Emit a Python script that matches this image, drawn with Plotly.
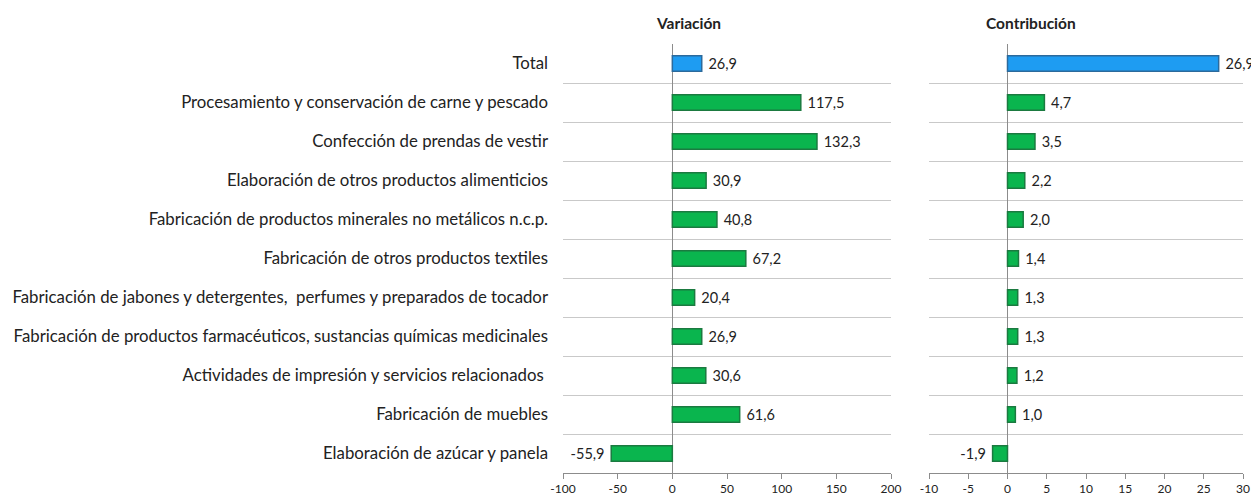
import plotly.graph_objects as go

categories = [
    "Total",
    "Procesamiento y conservación de carne y pescado",
    "Confección de prendas de vestir",
    "Elaboración de otros productos alimenticios",
    "Fabricación de productos minerales no metálicos n.c.p.",
    "Fabricación de otros productos textiles",
    "Fabricación de jabones y detergentes,\u00a0 perfumes y preparados de tocador",
    "Fabricación de productos farmacéuticos, sustancias químicas medicinales",
    "Actividades de impresión y servicios relacionados\u00a0",
    "Fabricación de muebles",
    "Elaboración de azúcar y panela",
]
variacion = [26.9, 117.5, 132.3, 30.9, 40.8, 67.2, 20.4, 26.9, 30.6, 61.6, -55.9]
contribucion = [26.9, 4.7, 3.5, 2.2, 2.0, 1.4, 1.3, 1.3, 1.2, 1.0, -1.9]
var_ticks = [-100, -50, 0, 50, 100, 150, 200]
con_ticks = [-10, -5, 0, 5, 10, 15, 20, 25, 30]

FONT = "Lato"
W, H = 1251, 495

def fmt(v):
    s = f"{v:.1f}".replace(".", ",")
    return (" " + s) if v >= 0 else (s + " ")

fill = ["#1E9CF2"] + ["#0AB54E"] * (len(categories) - 1)
edge = ["#2C6A9C"] + ["#1B7A40"] * (len(categories) - 1)

fig = go.Figure()
for vals, xa, ya in [(variacion, "x", "y"), (contribucion, "x2", "y2")]:
    fig.add_trace(go.Bar(
        y=categories, x=vals, orientation="h",
        marker=dict(color=fill, line=dict(color=edge, width=1.5)),
        width=0.4,
        text=[fmt(v) for v in vals], textposition="outside",
        textfont=dict(family=FONT, size=14.5, color="#222222"),
        constraintext="none", cliponaxis=False,
        xaxis=xa, yaxis=ya, showlegend=False,
    ))

y0, y1 = (H - 473) / H, (H - 44) / H
common_y = dict(
    type="category", autorange="reversed", tickson="boundaries",
    showgrid=True, gridcolor="#C9C9C9", gridwidth=1, ticks="",
    showline=False, zeroline=False, domain=[y0, y1],
)
common_x = dict(
    showgrid=False, zeroline=True, zerolinecolor="#8C8C8C", zerolinewidth=1,
    showline=True, linecolor="#8C8C8C", ticks="outside", ticklen=5,
    tickcolor="#8C8C8C", tickfont=dict(family=FONT, size=12, color="#222222"),
    automargin=False,
)

fig.update_layout(
    width=W, height=H,
    margin=dict(l=0, r=0, t=0, b=0),
    paper_bgcolor="white", plot_bgcolor="white",
    xaxis=dict(domain=[563 / W, 891 / W], range=[-100, 200], tickmode="array",
               tickvals=var_ticks, ticktext=[str(t) for t in var_ticks],
               anchor="y", **common_x),
    xaxis2=dict(domain=[929 / W, 1243 / W], range=[-10, 30], tickmode="array",
                tickvals=con_ticks, ticktext=[str(t) for t in con_ticks],
                anchor="y2", **common_x),
    yaxis=dict(anchor="x", showticklabels=True, ticklabelstandoff=14,
               tickfont=dict(family=FONT, size=16.8, color="#222222"),
               automargin=False, **common_y),
    yaxis2=dict(anchor="x2", showticklabels=False, **common_y),
    annotations=[
        dict(text="<b>Variación</b>", x=688 / W, y=1 - 23 / H, yanchor="middle",
             xref="paper", yref="paper", showarrow=False,
             font=dict(family=FONT, size=15.5, color="#222222")),
        dict(text="<b>Contribución</b>", x=1078 / W, y=1 - 23 / H, yanchor="middle",
             xref="paper", yref="paper", showarrow=False,
             font=dict(family=FONT, size=15.5, color="#222222")),
    ],
)

fig.write_html("out.html", config={"displayModeBar": False},
               post_script="document.body.style.margin='0';")
